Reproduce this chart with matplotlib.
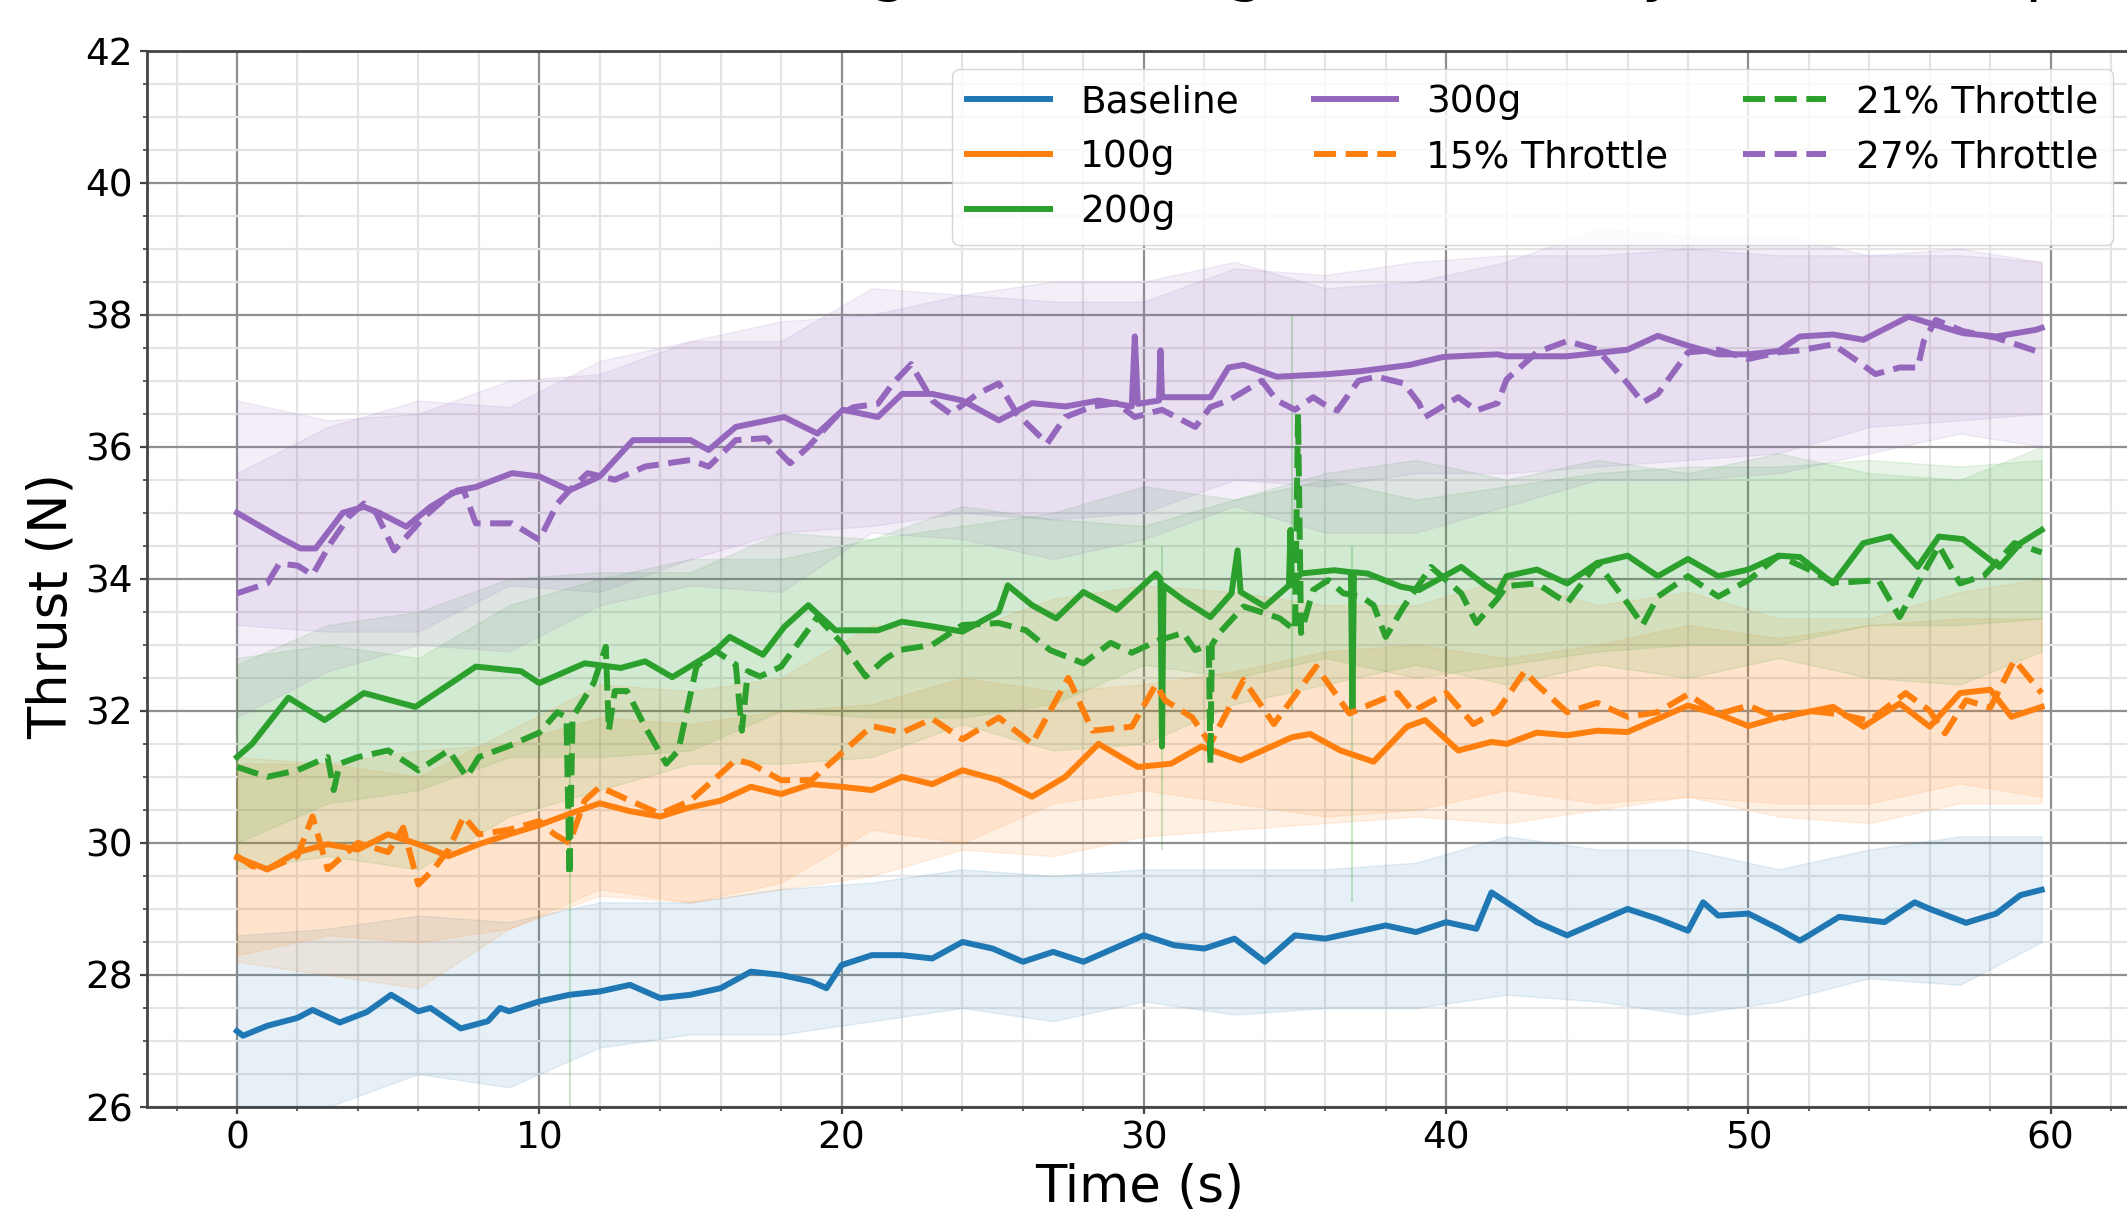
import numpy as np
import matplotlib
matplotlib.use("Agg")
import matplotlib.pyplot as plt
from matplotlib.ticker import MultipleLocator
from matplotlib.font_manager import FontProperties

# ---------------- data ----------------
TITLE = "Thrust vs Time: Weighted Configurations Only Mean Comparison"
LABELS = ["Baseline", "100g", "200g", "300g", "15% Throttle", "21% Throttle", "27% Throttle"]

BASELINE = [(0, 27.15), (0.2, 27.08), (1, 27.23), (2, 27.35), (2.5, 27.47), (3.4, 27.28), (4.3, 27.44),
            (5.1, 27.7), (6, 27.45), (6.4, 27.5), (7.4, 27.19), (8.3, 27.3), (8.7, 27.5), (9, 27.45),
            (10, 27.6), (11, 27.7), (12, 27.75), (13, 27.85), (14, 27.65), (15, 27.7), (16, 27.8),
            (17, 28.05), (18, 28.0), (19, 27.9), (19.5, 27.8), (20, 28.15), (21, 28.3), (22, 28.3),
            (23, 28.25), (24, 28.5), (25, 28.4), (26, 28.2), (27, 28.35), (28, 28.2), (29, 28.4),
            (30, 28.6), (31, 28.45), (32, 28.4), (33, 28.55), (34, 28.2), (35, 28.6), (36, 28.55),
            (37, 28.65), (38, 28.75), (39, 28.65), (40, 28.8), (41, 28.7), (41.5, 29.25), (42, 29.1),
            (43, 28.8), (44, 28.6), (45, 28.8), (46, 29.0), (47, 28.85), (48, 28.67), (48.5, 29.1),
            (49, 28.9), (50, 28.93), (51, 28.7), (51.7, 28.52), (52, 28.6), (53, 28.88), (54.5, 28.8),
            (55.5, 29.1), (56, 29.0), (57.2, 28.79), (58.2, 28.93), (59, 29.21), (59.7, 29.29)]

M100 = [(0, 29.78), (1, 29.6), (2, 29.86), (3, 29.98), (4, 29.9), (5, 30.13), (6, 29.98), (7, 29.8),
        (8, 29.98), (9, 30.13), (10, 30.27), (11, 30.44), (12, 30.6), (13, 30.48), (14, 30.4),
        (15, 30.54), (16, 30.64), (17, 30.85), (18, 30.74), (19, 30.89), (20, 30.85), (21, 30.8),
        (22, 31.0), (23, 30.89), (24, 31.1), (25.2, 30.95), (26.3, 30.7), (27.4, 31.0), (28.5, 31.5),
        (29.8, 31.15), (30.9, 31.2), (31.9, 31.46), (33.2, 31.25), (34.9, 31.6), (35.5, 31.65),
        (36.5, 31.4), (37.6, 31.23), (38.7, 31.76), (39.3, 31.86), (40.4, 31.4), (41.5, 31.53),
        (42, 31.5), (43, 31.67), (44, 31.63), (45, 31.7), (46, 31.68), (47, 31.88), (48, 32.08),
        (49, 31.95), (50, 31.77), (51, 31.9), (51.7, 31.96), (52.8, 32.06), (53.8, 31.76), (55, 32.11),
        (56, 31.76), (57, 32.27), (58, 32.32), (58.7, 31.91), (59.7, 32.06)]

M200 = [(0, 31.3), (0.5, 31.5), (1.7, 32.2), (2.9, 31.86), (4.2, 32.27), (5.9, 32.06), (7.9, 32.67),
        (9.4, 32.6), (10, 32.42), (11.5, 32.72), (12.7, 32.65), (13.5, 32.75), (14.4, 32.51),
        (15.8, 32.9), (16.3, 33.12), (17.4, 32.85), (18.1, 33.27), (18.9, 33.6), (19.8, 33.22),
        (21.2, 33.22), (22, 33.35), (23, 33.28), (24, 33.2), (25.2, 33.5), (25.5, 33.9), (26.3, 33.6),
        (27.1, 33.4), (28, 33.8), (29.1, 33.53), (30.4, 34.08), (30.55, 34.0), (30.6, 31.46),
        (30.65, 33.9), (31.3, 33.68), (32.2, 33.42), (32.9, 33.78), (33.1, 34.43), (33.2, 33.8),
        (34, 33.58), (34.8, 33.9), (34.85, 34.74), (34.9, 33.9), (35.2, 34.08), (36.3, 34.13),
        (36.85, 34.1), (36.9, 32.0), (36.95, 34.1), (37.4, 34.08), (38.5, 33.88), (39.1, 33.83),
        (40.5, 34.18), (41.3, 33.9), (41.7, 33.78), (42, 34.04), (43, 34.14), (44, 33.93), (45, 34.24),
        (46, 34.35), (47, 34.04), (48, 34.3), (49, 34.04), (50, 34.14), (51, 34.35), (51.7, 34.33),
        (52.8, 33.93), (53.8, 34.54), (54.7, 34.64), (55.6, 34.18), (56.3, 34.64), (57.1, 34.6),
        (58.3, 34.18), (59, 34.54), (59.7, 34.74)]

M300 = [(0, 35.0), (1.4, 34.63), (2.1, 34.46), (2.6, 34.46), (3.5, 35.0), (4.2, 35.09), (4.7, 35.0),
        (5.6, 34.79), (6.4, 35.09), (7.3, 35.34), (7.9, 35.39), (9.1, 35.6), (10, 35.55), (11, 35.34),
        (12, 35.55), (13.1, 36.1), (15, 36.1), (15.6, 35.95), (16.5, 36.3), (18.1, 36.45), (19.2, 36.2),
        (20.05, 36.56), (21.2, 36.45), (22, 36.8), (23, 36.8), (24, 36.7), (25.2, 36.4), (26.3, 36.66),
        (27.4, 36.61), (28.5, 36.7), (29.6, 36.61), (29.7, 37.67), (29.8, 36.65), (30.5, 36.7),
        (30.55, 37.46), (30.6, 36.75), (32.2, 36.75), (32.8, 37.2), (33.3, 37.24), (34.4, 37.06),
        (36.1, 37.1), (37.1, 37.14), (38.8, 37.24), (39.9, 37.36), (41.7, 37.4), (42, 37.37),
        (44, 37.37), (46, 37.47), (47, 37.68), (48, 37.53), (49, 37.4), (50, 37.4), (51, 37.45),
        (51.7, 37.67), (52.8, 37.7), (53.8, 37.62), (55.3, 37.97), (56, 37.87), (57.1, 37.72),
        (58.2, 37.67), (59.5, 37.77), (59.7, 37.8)]

T15 = [(0, 29.8), (0.5, 29.65), (1, 29.6), (2, 29.8), (2.5, 30.4), (3, 29.6), (4, 30.0), (5, 29.86),
       (5.5, 30.23), (6, 29.37), (6.5, 29.6), (7, 29.9), (7.5, 30.4), (8, 30.13), (9, 30.2), (10, 30.33),
       (10.5, 30.13), (11, 30.0), (11.5, 30.64), (12, 30.85), (13, 30.64), (14, 30.44), (15, 30.64),
       (16, 31.05), (16.5, 31.26), (17, 31.2), (18, 30.95), (19, 30.95), (20, 31.36), (21, 31.77),
       (22, 31.67), (23, 31.88), (24, 31.57), (25.2, 31.9), (26.3, 31.5), (27.5, 32.5), (28.3, 31.7),
       (29.6, 31.76), (30.4, 32.4), (30.7, 32.16), (31.6, 31.9), (32.2, 31.5), (33.3, 32.47),
       (34.3, 31.8), (35.7, 32.67), (36.8, 31.96), (37.5, 32.1), (38.4, 32.27), (38.9, 31.99),
       (40.0, 32.27), (40.9, 31.8), (41.7, 32.0), (42.6, 32.6), (43, 32.4), (44, 31.98), (45, 32.12),
       (46, 31.91), (47, 31.98), (48, 32.25), (49, 31.95), (50, 32.08), (51, 31.88), (52, 32.0),
       (53, 31.95), (54, 31.85), (55.2, 32.27), (56, 32.0), (56.5, 31.66), (57.2, 32.16), (58, 32.05),
       (58.8, 32.77), (59.7, 32.27)]

T21 = [(0, 31.15), (1, 31.0), (2, 31.1), (3, 31.3), (3.2, 30.8), (3.4, 31.2), (4, 31.3), (5, 31.4),
       (6, 31.1), (7, 31.4), (7.6, 31.0), (8, 31.3), (9, 31.47), (10, 31.67), (10.6, 31.98),
       (10.9, 31.9), (11.0, 29.5), (11.1, 31.9), (11.8, 32.42), (12.2, 32.97), (12.3, 31.7),
       (12.5, 32.3), (12.9, 32.3), (13.5, 31.76), (14.2, 31.2), (14.6, 31.4), (15.2, 32.67),
       (15.8, 32.92), (16.5, 32.7), (16.7, 31.7), (16.9, 32.6), (17.3, 32.52), (18, 32.67),
       (19.2, 33.42), (20, 33.03), (20.8, 32.52), (21.4, 32.77), (21.9, 32.92), (23, 33.0),
       (24, 33.3), (25.2, 33.33), (26.1, 33.22), (26.9, 32.92), (28, 32.72), (28.9, 33.03),
       (29.6, 32.88), (30.5, 33.07), (31.3, 33.18), (31.7, 32.92), (32.15, 33.0), (32.2, 31.2),
       (32.25, 33.0), (32.5, 33.18), (33.3, 33.58), (34, 33.48), (34.5, 33.4), (35, 33.22),
       (35.1, 36.5), (35.2, 33.18), (35.6, 33.83), (36.1, 33.98), (36.6, 33.78), (37.2, 33.73),
       (37.6, 33.6), (38, 33.12), (38.6, 33.58), (39.5, 34.18), (40.5, 33.78), (41, 33.33),
       (41.7, 33.7), (42, 33.89), (43, 33.93), (44, 33.63), (45, 34.24), (46, 33.63), (46.5, 33.3),
       (47, 33.73), (48, 34.04), (49, 33.73), (50, 33.98), (51, 34.35), (52, 34.14), (52.8, 33.95),
       (53.3, 33.95), (54.3, 33.98), (55, 33.42), (55.6, 33.93), (56.3, 34.5), (57, 33.93),
       (57.8, 34.05), (58.8, 34.54), (59.7, 34.4)]

T27 = [(0, 33.78), (1, 33.93), (1.4, 34.23), (2, 34.2), (2.5, 34.06), (3.1, 34.54), (3.7, 34.94),
       (4.2, 35.14), (4.6, 35.0), (5.2, 34.43), (6.2, 34.94), (7.1, 35.3), (7.5, 35.34), (7.9, 34.84),
       (9.1, 34.84), (10, 34.59), (10.6, 35.14), (11, 35.34), (11.6, 35.6), (12.5, 35.5), (13.5, 35.7),
       (15, 35.8), (15.6, 35.7), (16.5, 36.1), (17.5, 36.13), (18.3, 35.75), (18.9, 36.0),
       (19.8, 36.45), (20.4, 36.6), (21.2, 36.65), (21.7, 36.96), (22.3, 37.25), (23.0, 36.7),
       (23.6, 36.5), (24.5, 36.8), (25.2, 36.96), (25.8, 36.5), (26.8, 36.05), (27.4, 36.45),
       (28.3, 36.61), (29.1, 36.66), (29.7, 36.45), (30.6, 36.56), (31.7, 36.3), (32.2, 36.6),
       (32.8, 36.7), (33.9, 37.0), (34.4, 36.7), (35, 36.56), (35.6, 36.75), (36.1, 36.6),
       (36.4, 36.55), (37.1, 37.0), (37.7, 37.06), (38.6, 36.96), (39.1, 36.66), (39.3, 36.45),
       (40.4, 36.75), (41, 36.55), (41.7, 36.66), (42, 37.02), (43, 37.43), (44, 37.6), (45, 37.47),
       (46, 36.96), (46.5, 36.67), (47, 36.8), (48, 37.43), (49, 37.47), (50, 37.33), (51, 37.43),
       (51.7, 37.46), (52.8, 37.55), (53.6, 37.3), (54.2, 37.1), (55, 37.2), (55.6, 37.2),
       (55.8, 37.6), (56.2, 37.92), (57.1, 37.75), (58.2, 37.65), (59.7, 37.42)]

# spread bands (lower / upper edges), sampled every 3 s
BAND_T = [0, 3, 6, 9, 12, 15, 18, 21, 24, 27, 30, 33, 36, 39, 42, 45, 48, 51, 54, 57, 59.7]
BASE_LO = [25.9, 26.0, 26.5, 26.3, 26.9, 27.1, 27.1, 27.3, 27.5, 27.3, 27.6, 27.4, 27.5, 27.5, 27.7,
           27.6, 27.4, 27.6, 27.95, 27.85, 28.5]
BASE_HI = [28.6, 28.7, 28.9, 28.8, 29.1, 29.1, 29.3, 29.4, 29.6, 29.5, 29.6, 29.6, 29.6, 29.7, 30.1,
           29.9, 29.9, 29.6, 29.9, 30.1, 30.1]
M100_LO = [28.3, 28.6, 28.5, 28.7, 29.2, 29.1, 29.3, 29.5, 29.9, 29.8, 30.1, 30.2, 30.3, 30.4, 30.3,
           30.5, 30.7, 30.6, 30.6, 30.9, 30.7]
M100_HI = [31.2, 31.2, 31.4, 31.5, 31.9, 31.8, 32.0, 32.1, 32.5, 32.3, 32.4, 32.6, 32.9, 33.0, 32.8,
           33.0, 33.3, 33.1, 33.3, 33.4, 33.4]
T15_LO = [28.2, 28.0, 27.8, 28.7, 29.3, 29.1, 29.4, 30.2, 30.0, 30.6, 30.8, 30.6, 30.4, 30.5, 30.8,
          30.6, 30.7, 30.4, 30.3, 30.6, 30.6]
T15_HI = [31.3, 31.2, 31.0, 31.7, 32.4, 32.3, 32.5, 33.3, 33.2, 33.7, 33.9, 33.8, 33.6, 33.6, 34.0,
          33.6, 33.8, 33.4, 33.4, 33.8, 34.0]
M200_LO = [30.0, 30.6, 30.8, 31.3, 31.3, 31.4, 32.0, 31.9, 31.9, 32.1, 32.7, 32.5, 32.8, 32.5, 32.7,
           32.9, 33.0, 33.0, 33.3, 33.3, 33.4]
M200_HI = [32.7, 33.3, 33.5, 34.0, 34.1, 34.1, 34.7, 34.6, 34.8, 35.0, 35.4, 35.2, 35.5, 35.2, 35.4,
           35.6, 35.7, 35.7, 35.8, 35.7, 35.8]
T21_LO = [29.6, 29.8, 29.6, 30.4, 30.8, 31.2, 31.2, 31.3, 31.8, 31.4, 31.5, 32.1, 32.4, 32.7, 32.4,
          32.7, 32.5, 32.8, 32.5, 32.4, 32.9]
T21_HI = [32.8, 33.0, 32.8, 33.6, 34.0, 34.3, 34.3, 34.6, 35.1, 34.9, 34.8, 35.2, 35.6, 35.8, 35.5,
          35.8, 35.6, 35.9, 35.6, 35.5, 36.0]
M300_LO = [33.3, 33.2, 33.2, 33.9, 33.8, 34.3, 34.7, 34.8, 35.0, 34.9, 35.0, 35.5, 35.4, 35.6, 35.6,
           35.7, 35.8, 35.9, 36.3, 36.4, 36.5]
M300_HI = [36.7, 36.4, 36.5, 37.0, 37.1, 37.6, 37.9, 38.0, 38.3, 38.2, 38.2, 38.7, 38.6, 38.8, 38.9,
           38.9, 39.0, 38.9, 38.9, 38.9, 38.8]
T27_LO = [31.9, 32.6, 33.0, 32.9, 33.6, 33.9, 33.8, 34.7, 34.6, 34.3, 34.6, 35.1, 34.7, 34.7, 35.1,
          35.5, 35.5, 35.6, 35.9, 36.2, 36.0]
T27_HI = [35.6, 36.3, 36.7, 36.6, 37.3, 37.6, 37.6, 38.4, 38.3, 38.5, 38.5, 38.8, 38.4, 38.5, 38.8,
          39.3, 39.2, 39.2, 38.9, 39.0, 38.8]

# brief spread spikes of the 21% throttle runs
SPIKE_T = [11.0, 30.6, 34.9, 36.9]
SPIKE_LO = [26.0, 29.9, 32.0, 29.1]
SPIKE_HI = [31.5, 34.5, 38.0, 34.5]

# ---------------- style ----------------
C_BLUE, C_ORANGE, C_GREEN, C_PURPLE = "#1f77b4", "#ff7f0e", "#2ca02c", "#9467bd"
W, H, DPI = 2127, 1210, 100

fig = plt.figure(figsize=(W / DPI, H / DPI), dpi=DPI)
ax = fig.add_axes([0.0690, 0.0851, 0.9333, 0.8731])

series = [
    (BASELINE, LABELS[0], C_BLUE, "-", BASE_LO, BASE_HI),
    (M100, LABELS[1], C_ORANGE, "-", M100_LO, M100_HI),
    (M200, LABELS[2], C_GREEN, "-", M200_LO, M200_HI),
    (M300, LABELS[3], C_PURPLE, "-", M300_LO, M300_HI),
    (T15, LABELS[4], C_ORANGE, "--", T15_LO, T15_HI),
    (T21, LABELS[5], C_GREEN, "--", T21_LO, T21_HI),
    (T27, LABELS[6], C_PURPLE, "--", T27_LO, T27_HI),
]

for data, lab, col, ls, lo, hi in series:
    ax.fill_between(BAND_T, lo, hi, color=col, alpha=0.11, lw=1, zorder=1)

ax.vlines(SPIKE_T, SPIKE_LO, SPIKE_HI, color=C_GREEN, alpha=0.25, lw=1.5, zorder=1)

for data, lab, col, ls, lo, hi in series:
    arr = np.array(data)
    ax.plot(arr[:, 0], arr[:, 1], color=col, ls=ls, lw=4.3, label=lab, zorder=3)

ax.set_ylim(26, 42)
ax.xaxis.set_major_locator(MultipleLocator(10))
ax.xaxis.set_minor_locator(MultipleLocator(2))
ax.yaxis.set_major_locator(MultipleLocator(2))
ax.yaxis.set_minor_locator(MultipleLocator(0.5))
ax.set_axisbelow(True)
ax.grid(which="major", color="#8f8f8f", lw=1.6)
ax.grid(which="minor", color="#e4e4e4", lw=1.6)
for s in ax.spines.values():
    s.set_color("#444444")
    s.set_linewidth(2.0)
ax.tick_params(which="major", labelsize=27, length=5, width=1.6, pad=5, color="#444444")
ax.tick_params(which="minor", length=3, width=1.2, color="#444444")

ax.set_xlabel("Time (s)", fontsize=37)
ax.set_ylabel("Thrust (N)", fontsize=38)
ax.xaxis.set_label_coords(0.5, -0.053)
ax.yaxis.set_label_coords(-0.035, 0.474)

ax.legend(ncol=3, loc="upper right", fontsize=27, handlelength=2.2, framealpha=0.8)

# title: only the bottom of its descenders shows at the top edge (as in the reference)
renderer = fig.canvas.get_renderer()


def text_w(s, fs):
    w, h, d = renderer.get_text_width_height_descent(s, FontProperties(size=fs), ismath=False)
    return w


def char_center(s, idx, fs):
    return text_w(s[:idx], fs) + text_w(s[idx], fs) / 2 if idx > 0 else text_w(s[idx], fs) / 2


FS0 = 45
i_g1 = TITLE.index("g")
i_p = TITLE.index("p")
span0 = char_center(TITLE, i_p, FS0) - char_center(TITLE, i_g1, FS0)
fs_title = FS0 * (2045 - 890) / span0
x0 = 890 - char_center(TITLE, i_g1, fs_title)
desc = 0.236 * fs_title * DPI / 72
fig.text(x0 / W, 1 + (desc - 4) / H, TITLE, fontsize=fs_title, ha="left", va="baseline")

fig.savefig("out.png", dpi=DPI)
